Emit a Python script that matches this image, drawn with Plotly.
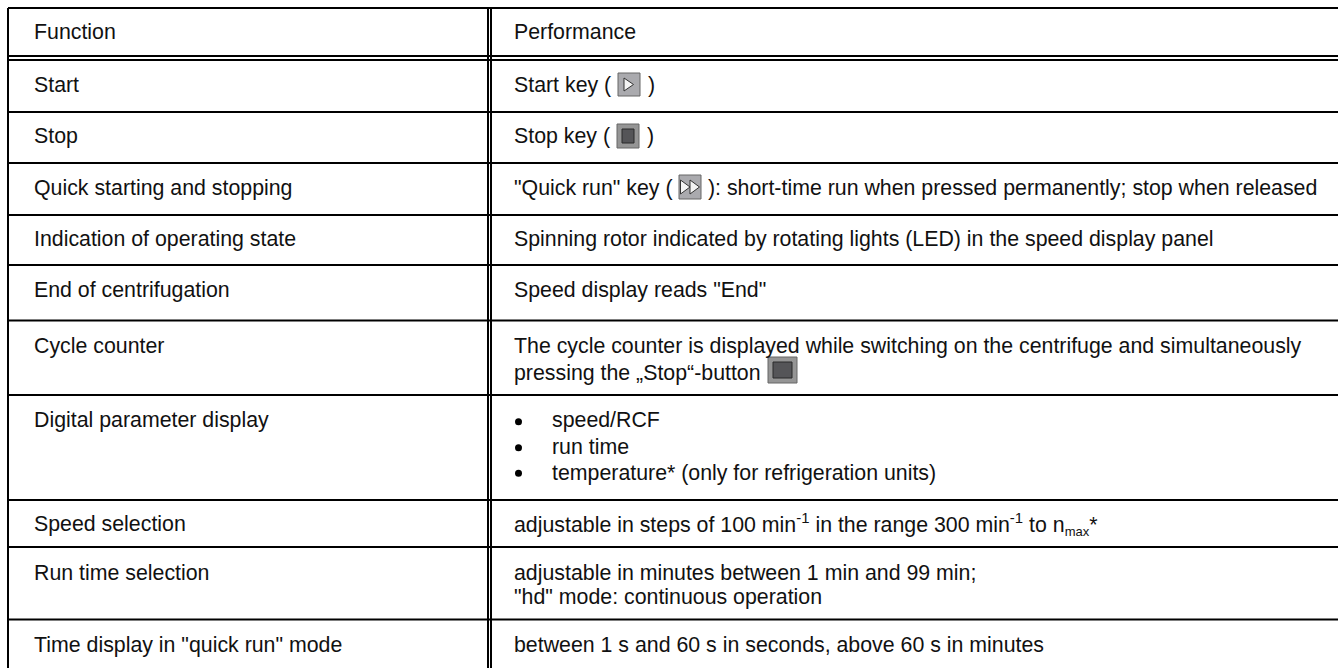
import plotly.graph_objects as go

W, H = 1338, 668
functions = ["Function", "Start", "Stop", "Quick starting and stopping", "Indication of operating state",
             "End of centrifugation", "Cycle counter", "Digital parameter display", "Speed selection",
             "Run time selection", "Time display in \"quick run\" mode"]
function_y = [32, 84.5, 136, 187.5, 238.5, 290, 345.5, 419.5, 524, 572.5, 644.5]
performance = [
    ("Performance", 512, 32),
    ("Start key (", 512, 84.5), (")", 646, 84.5),
    ("Stop key (", 512, 136), (")", 645, 136),
    ("\"Quick run\" key (", 512, 187.5), ("): short-time run when pressed permanently; stop when released", 706, 187.5),
    ("Spinning rotor indicated by rotating lights (LED) in the speed display panel", 512, 238.5),
    ("Speed display reads \"End\"", 512, 290),
    ("The cycle counter is displayed while switching on the centrifuge and simultaneously", 512, 345.5),
    ("pressing the „Stop“-button", 512, 372.5),
    ("speed/RCF", 550, 419.5),
    ("run time", 550, 446.5),
    ("temperature* (only for refrigeration units)", 550, 472.5),
    ("adjustable in steps of 100 min<sup>-1</sup> in the range 300 min<sup>-1</sup> to n"
     "<sub><span style=\"font-size:13px\">max</span></sub>*", 512, 524),
    ("adjustable in minutes between 1 min and 99 min;", 512, 572.5),
    ("\"hd\" mode: continuous operation", 512, 597),
    ("between 1 s and 60 s in seconds, above 60 s in minutes", 512, 644.5),
]
bullet_x = [518.5, 518.5, 518.5]
bullet_y = [421.7, 447.7, 473.3]
row_rules = [8, 56, 60, 112, 163, 215, 265, 320.5, 395, 500, 547, 619.5]
left_x = 8
col_rules = [488, 491]

TEXT = "#111111"
FS = 21.33
fig = go.Figure()
fig.add_trace(go.Scatter(x=bullet_x, y=bullet_y, mode="markers", hoverinfo="skip",
                         marker=dict(size=7, color="black", line=dict(width=0))))
shapes = []
for y in row_rules:
    shapes.append(dict(type="line", x0=left_x, x1=W, y0=y, y1=y, line=dict(color="black", width=2)))
for x in [left_x] + col_rules:
    shapes.append(dict(type="line", x0=x, x1=x, y0=8, y1=H, line=dict(color="black", width=2)))

def stop_icon(x0, y0, x1, y1):
    shapes.append(dict(type="rect", x0=x0, x1=x1, y0=y0, y1=y1, fillcolor="#959595", line=dict(color="#666666", width=1)))
    shapes.append(dict(type="rect", x0=x0+5, x1=x1-5, y0=y0+5, y1=y1-5, fillcolor="#555558", line=dict(color="#2a2a2a", width=1)))

def play_icon(x0, y0, x1, y1, n):
    shapes.append(dict(type="rect", x0=x0, x1=x1, y0=y0, y1=y1, fillcolor="#aaaaae", line=dict(color="#666666", width=1)))
    w = 9.5
    for i in range(n):
        a = x0 + (6 if n == 1 else 1.5) + i * w
        shapes.append(dict(type="path", path=f"M{a},{y0+5} L{a+w},{(y0+y1)/2} L{a},{y1-5} Z",
                           fillcolor="#f4f4f4", line=dict(color="#333333", width=1)))

play_icon(618, 73, 640, 96, 1)
stop_icon(617, 124, 639, 148)
play_icon(679, 175, 701, 199, 2)
stop_icon(768, 357, 797, 383)

ann = []
def add(t, x, y, size=FS):
    ann.append(dict(x=x, y=y, text=t, xref="x", yref="y", xanchor="left", yanchor="middle", showarrow=False,
                    font=dict(family="Liberation Sans", size=size, color=TEXT)))
for t, y in zip(functions, function_y):
    add(t, 32, y)
for t, x, y in performance:
    add(t, x, y)

fig.update_layout(width=W, height=H, margin=dict(l=0, r=0, t=0, b=0), paper_bgcolor="white", plot_bgcolor="white",
                  showlegend=False, shapes=shapes, annotations=ann,
                  xaxis=dict(range=[0, W], visible=False, fixedrange=True),
                  yaxis=dict(range=[H, 0], visible=False, fixedrange=True))
fig.write_html("out.html", config=dict(displayModeBar=False),
               post_script="document.body.style.margin='0';document.body.style.overflow='hidden';")
